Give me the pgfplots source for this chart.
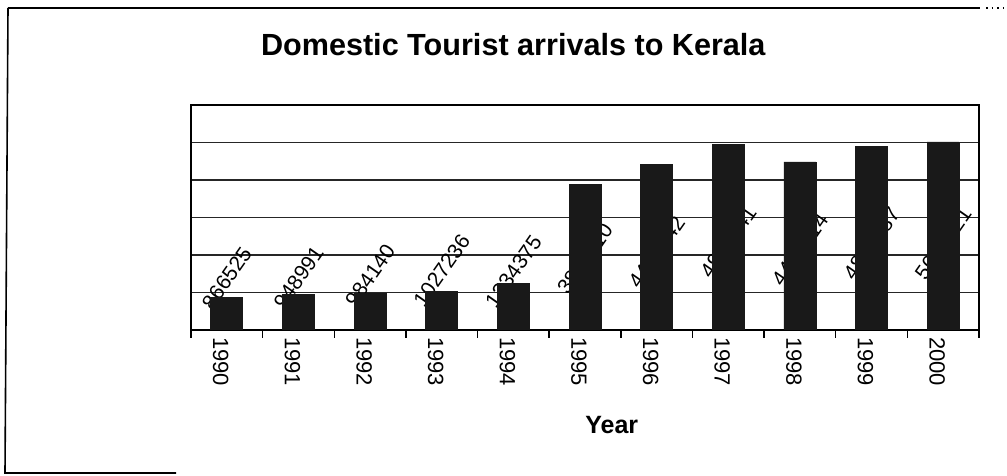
\documentclass[border=0pt]{standalone}
\usepackage{pgfplots}
\pgfplotsset{compat=1.18}
\usepackage{pgfplotstable}
\usepackage{fontspec}
\setmainfont{Liberation Sans}

% x: category index, value: arrivals, ly: height of the value label centre
\pgfplotstableread{
x year value   ly      lab
0 1990 866525  1380000 866525
1 1991 948991  1400000 948991
2 1992 984140  1450000 984140
3 1993 1027236 1590000 1027236
4 1994 1234375 1560000 1234375
5 1995 3890110 1900000 3890110
6 1996 4403142 2080000 4403142
7 1997 4953141 2350000 4953141
8 1998 4481714 2150000 4481714
9 1999 4888287 2300000 4888287
10 2000 5013221 2300000 5013221
}\arrivals

\begin{document}
\begin{tikzpicture}
\useasboundingbox (0,0) rectangle (503.5pt,238pt);
% chart area frame
\draw[line width=0.8pt] (4pt,234pt) -- (490pt,234pt);
\draw[line width=0.8pt,dotted] (493pt,234pt) -- (503.5pt,234pt);
\draw[line width=0.8pt] (4pt,234pt) -- (2.5pt,1.5pt) -- (88pt,1.5pt);
\begin{axis}[
    at={(95.5pt,73pt)}, anchor=south west,
    scale only axis, width=394pt, height=112.5pt,
    xmin=-0.5, xmax=10.5, ymin=0, ymax=6000000,
    enlargelimits=false,
    clip marker paths=true,
    axis line style={black, line width=1.1pt},
    xtick={0,...,10},
    xticklabels={1990,1991,1992,1993,1994,1995,1996,1997,1998,1999,2000},
    minor xtick={-0.5,0.5,...,10.5},
    xtick pos=left, ytick pos=left,
    major tick length=0pt, minor tick length=4pt, tick align=outside,
    minor tick style={black, line width=0.7pt},
    ytick={0,1000000,2000000,3000000,4000000,5000000,6000000},
    yticklabels={}, scaled y ticks=false,
    ymajorgrids, grid style={black!85, line width=0.6pt},
    xticklabel style={rotate=-90, anchor=west, yshift=-3pt,
        font=\fontsize{11}{12}\selectfont},
    title={Domestic Tourist arrivals to Kerala},
    title style={font=\bfseries\fontsize{15.3}{17}\selectfont,
        at={(rel axis cs:0.409,1)}, anchor=center, yshift=24pt},
    xlabel={Year},
    xlabel style={font=\bfseries\fontsize{12.5}{14}\selectfont,
        at={(rel axis cs:0.534,0)}, anchor=center, yshift=-47.5pt},
]
\addplot[only marks, mark=text, text mark={},
    nodes near coords, point meta=explicit symbolic,
    every node near coord/.append style={rotate=55, anchor=center,
        inner sep=0pt, font=\fontsize{10.5}{12}\selectfont}]
    table[x=x, y=ly, meta=lab] {\arrivals};
\addplot[ybar, bar width=16pt, fill=black!90, draw=black!90]
    table[x=x, y=value] {\arrivals};
\end{axis}
\end{tikzpicture}
\end{document}
